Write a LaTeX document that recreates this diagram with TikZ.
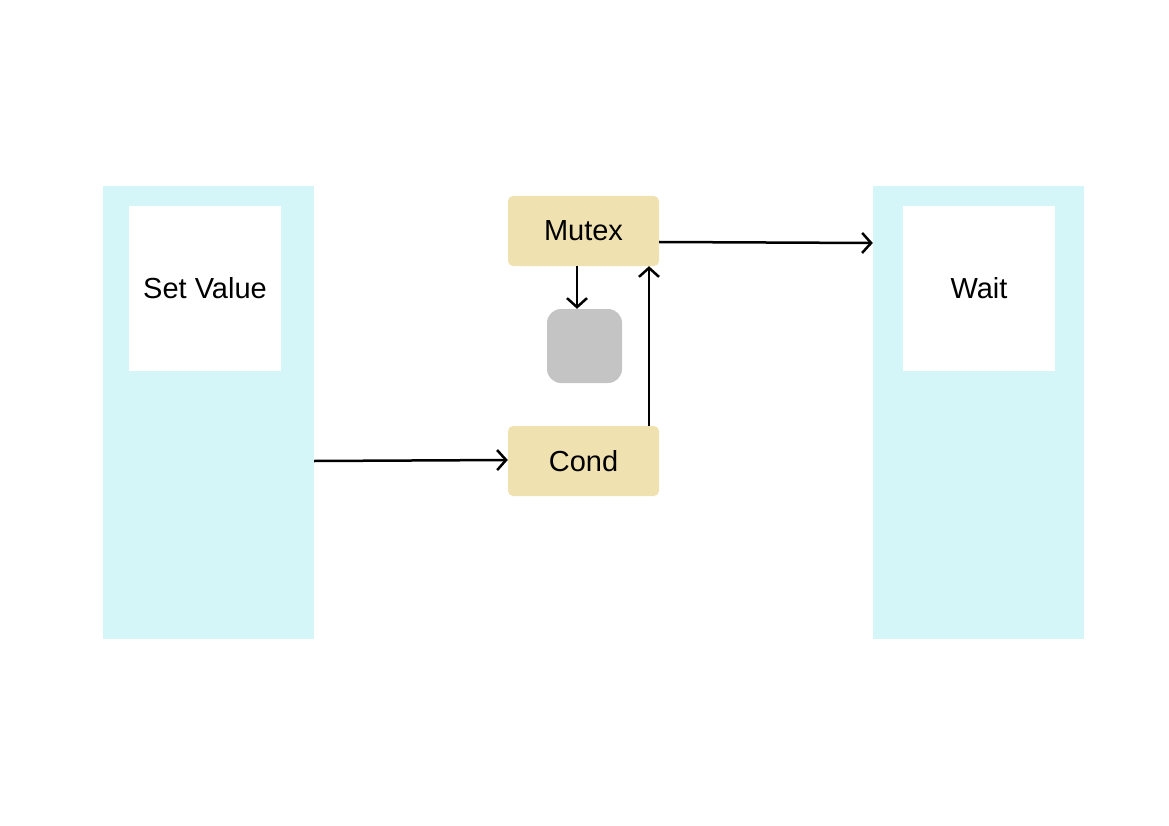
\documentclass[tikz,border=0pt]{standalone}
\usepackage{fontspec}
\setmainfont{Liberation Sans}
\usetikzlibrary{arrows.meta}
\definecolor{colbg}{HTML}{D5F6F8}
\definecolor{boxy}{HTML}{F0E2B0}
\definecolor{greyb}{HTML}{C4C4C4}
\tikzset{
  lane/.style={fill=colbg, draw=none, minimum width=211pt, minimum height=453pt, inner sep=0pt},
  inner/.style={fill=white, draw=none, minimum width=152pt, minimum height=165pt, inner sep=0pt, font=\fontsize{29}{34}\selectfont},
  ybox/.style={fill=boxy, draw=none, rounded corners=5pt, minimum width=151pt, minimum height=70pt, inner sep=0pt, font=\fontsize{29}{34}\selectfont},
  gbox/.style={fill=greyb, draw=none, rounded corners=14pt, minimum width=75pt, minimum height=74pt, inner sep=0pt},
  conn/.style={draw=black, line width=2.5pt, -{Straight Barb[length=9pt, width=20pt, line width=2.5pt]}}
}
\begin{document}
\begin{tikzpicture}[x=1pt, y=-1pt]
\useasboundingbox (0,0) rectangle (1169,826);
\node[lane] (L) at (208.5,412.5) {};
\node[inner] (SV) at (205,288.5) {Set Value};
\node[lane] (R) at (978.5,412.5) {};
\node[inner] (W) at (979,288.5) {Wait};
\node[ybox] (M) at (583.5,231) {Mutex};
\node[ybox] (C) at (583.5,461) {Cond};
\node[gbox] (G) at (584.5,346) {};
\draw[conn] (L.east |- 0,461) -- (C.west |- 0,460);
\draw[conn] (M.south -| 577,0) -- (G.north -| 577,0);
\draw[conn] (C.north -| 649,0) -- (M.south -| 649,0);
\draw[conn] (M.east |- 0,242) -- (R.west |- 0,243);
\end{tikzpicture}
\end{document}
